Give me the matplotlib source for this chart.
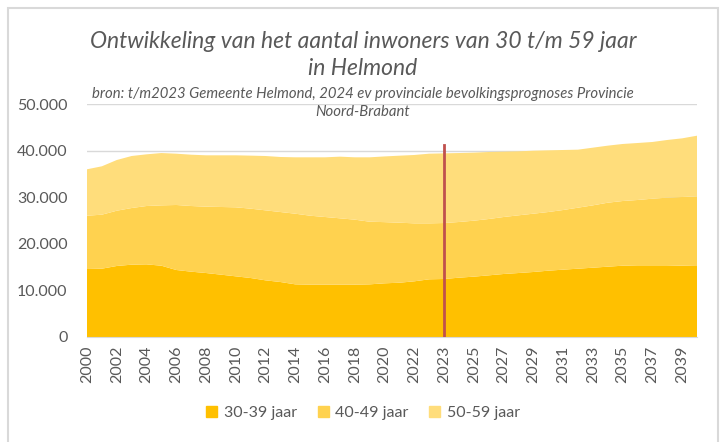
import matplotlib
matplotlib.use("Agg")
import matplotlib.pyplot as plt
from matplotlib.patches import Rectangle, Patch
from matplotlib.ticker import FuncFormatter

# jaren: 2023 komt twee keer voor (gemeente t/m 2023, prognose vanaf 2023)
years = list(range(2000, 2024)) + list(range(2023, 2041))

# inwoners per leeftijdsgroep
age_30_39 = [14590, 14660, 15240, 15520, 15590, 15300, 14380, 14020, 13730, 13380,
             13020, 12660, 12160, 11800, 11300, 11230, 11230, 11230, 11230, 11300,
             11520, 11650, 11950, 12380, 12450, 12730, 12950, 13230, 13520, 13730,
             13950, 14230, 14450, 14660, 14870, 15090, 15300, 15380, 15380, 15380,
             15300, 15230]
age_40_49 = [11440, 11590, 11860, 12160, 12520, 12950, 13950, 14090, 14240, 14520,
             14810, 14880, 15020, 15020, 15160, 14800, 14520, 14240, 13950, 13440,
             13130, 12880, 12440, 12010, 12010, 11950, 12010, 12090, 12230, 12380,
             12510, 12590, 12800, 13090, 13380, 13730, 13880, 14020, 14300, 14520,
             14740, 14960]
age_50_59 = [9960, 10380, 10880, 11160, 11090, 11230, 11010, 11010, 11020, 11090,
             11160, 11380, 11660, 11810, 12100, 12530, 12810, 13230, 13380, 13820,
             14100, 14380, 14670, 14950, 14950, 14800, 14600, 14380, 14020, 13730,
             13520, 13240, 12880, 12450, 12380, 12240, 12240, 12230, 12170, 12380,
             12590, 13010]
labels = ["30-39 jaar", "40-49 jaar", "50-59 jaar"]
colors = ["#FFC000", "#FFD24F", "#FFDD7B"]

marker_index = 24      # grens gemeente / prognose (2023)
marker_top = 41300

plt.rcParams["font.family"] = ["Lato", "DejaVu Sans"]
grey = "#595959"

fig = plt.figure(figsize=(7.26, 4.42), dpi=100)
ax = fig.add_axes([87 / 726, 105 / 442, 610 / 726, 233 / 442])

x = list(range(len(years)))
ax.stackplot(x, age_30_39, age_40_49, age_50_59, colors=colors, zorder=2)
ax.plot([marker_index, marker_index], [0, marker_top], color="#C0504D", lw=2, zorder=3)

ax.set_xlim(0, len(years) - 1)
ax.set_ylim(0, 50000)
ax.set_yticks(range(0, 50001, 10000))
ax.yaxis.set_major_formatter(FuncFormatter(lambda v, p: f"{int(v):,}".replace(",", ".")))
ax.set_xticks(x[::2])
ax.set_xticklabels([str(y) for y in years[::2]], rotation=90)
ax.tick_params(axis="both", length=0, colors=grey, labelsize=11.5)
ax.tick_params(axis="y", pad=14)
ax.tick_params(axis="x", pad=6)
ax.grid(axis="y", color="#D9D9D9", lw=1, zorder=0)
ax.set_axisbelow(True)
for s in ["top", "right", "left"]:
    ax.spines[s].set_visible(False)
ax.spines["bottom"].set_color("#D9D9D9")

fig.text(0.5, 387 / 442, "Ontwikkeling van het aantal inwoners van 30 t/m 59 jaar\nin Helmond",
         ha="center", va="center", fontsize=16.5, style="italic", color=grey,
         linespacing=1.35)
fig.text(0.5, 339 / 442, "bron: t/m2023 Gemeente Helmond, 2024 ev provinciale bevolkingsprognoses Provincie\nNoord-Brabant",
         ha="center", va="center", fontsize=10.7, style="italic", color=grey, linespacing=1.45)

handles = [Patch(color=c) for c in colors]
fig.legend(handles, labels, loc="center", bbox_to_anchor=(0.5, 29 / 442), ncol=3,
           frameon=False, fontsize=11.5, labelcolor=grey, handlelength=0.7,
           handleheight=0.7, handletextpad=0.4, columnspacing=1.3)

fig.add_artist(Rectangle((8 / 726, -0.1), 710 / 726, 434 / 442 + 0.1, transform=fig.transFigure,
                         fill=False, edgecolor="#D9D9D9", lw=1.5))

fig.savefig("out.png", dpi=100)
